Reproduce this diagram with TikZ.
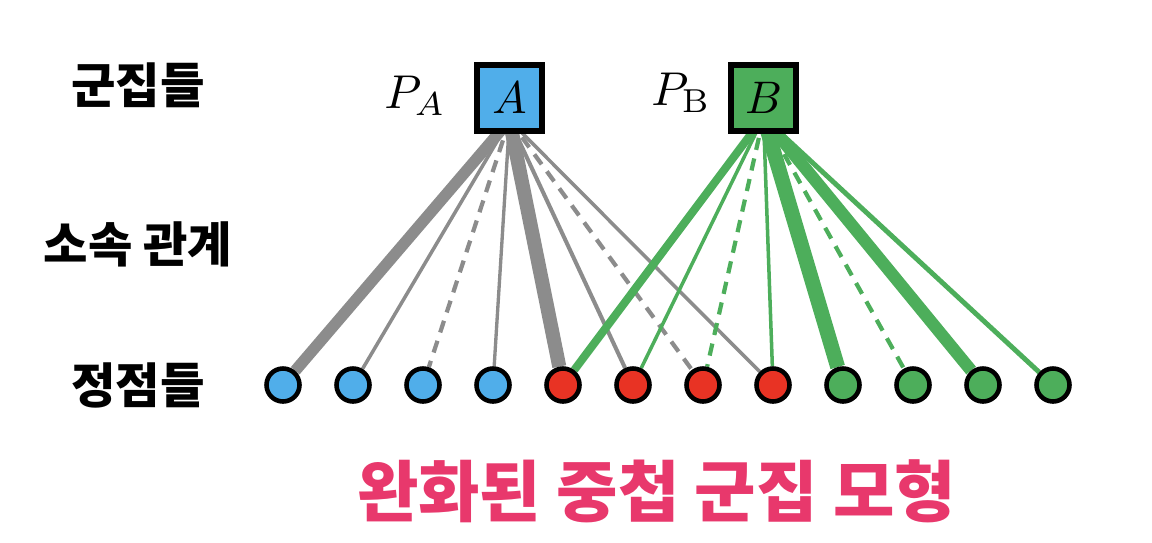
\documentclass[tikz,border=0pt]{standalone}
\usepackage{fontspec}
\usepackage{xcolor}
\newfontfamily\krfont{Noto Sans CJK KR}
\usetikzlibrary{positioning,backgrounds}

\begin{document}
\begin{tikzpicture}[
  cluster/.style={draw=black,line width=3.5pt,minimum size=1.31cm,inner sep=0pt},
  vertex/.style={circle,draw=black,line width=2.6pt,minimum size=0.66cm,inner sep=0pt},
  rowlabel/.style={font=\krfont\bfseries\fontsize{27.5}{32}\selectfont},
  dashedge/.style={dash pattern=on 7pt off 5pt,line width=2.4pt}
]
\definecolor{myBlue}{RGB}{80,174,234}
\definecolor{myRed}{RGB}{232,51,36}
\definecolor{myGreen}{RGB}{77,174,91}
\definecolor{myGray}{RGB}{140,140,140}
\definecolor{myPink}{RGB}{232,56,108}
\useasboundingbox (0,0) rectangle (23.04,10.84);

% clusters
\node[cluster,fill=myBlue] (A) at (10.19,8.88) {\scalebox{2.6}{$A$}};
\node[cluster,fill=myGreen] (B) at (15.27,8.88) {\scalebox{2.6}{$B$}};
\node[inner sep=0pt,left=0.55cm of A,yshift=0.05cm] (PA) {\scalebox{2.7}{$P_A$}};
\node[inner sep=0pt,left=0.33cm of B,yshift=0.1cm] (PB) {\scalebox{2.7}{$P_{\mathrm{B}}$}};
\coordinate (hubA) at ([yshift=0.27cm]A.south);
\coordinate (hubB) at ([yshift=0.33cm]B.south);

% vertices
\node[vertex,fill=myBlue] (v1) at (5.66,3.14) {};
\node[vertex,fill=myBlue] (v2) at (7.06,3.14) {};
\node[vertex,fill=myBlue] (v3) at (8.46,3.14) {};
\node[vertex,fill=myBlue] (v4) at (9.86,3.14) {};
\node[vertex,fill=myRed] (v5) at (11.26,3.14) {};
\node[vertex,fill=myRed] (v6) at (12.66,3.14) {};
\node[vertex,fill=myRed] (v7) at (14.06,3.14) {};
\node[vertex,fill=myRed] (v8) at (15.46,3.14) {};
\node[vertex,fill=myGreen] (v9) at (16.86,3.14) {};
\node[vertex,fill=myGreen] (v10) at (18.26,3.14) {};
\node[vertex,fill=myGreen] (v11) at (19.66,3.14) {};
\node[vertex,fill=myGreen] (v12) at (21.06,3.14) {};

% row labels
\node[rowlabel] (clusters) at (2.76,9.14) {군집들};
\node[rowlabel] (membership) at (2.76,5.96) {소속 관계};
\node[rowlabel] (vertices) at (2.76,3.14) {정점들};
\node[font=\krfont\bfseries\fontsize{38}{44}\selectfont,text=myPink] (title) at (13.13,1.02) {완화된 중첩 군집 모형};

% memberships
\begin{pgfonlayer}{background}
\draw[myGray,line width=6.5pt] (hubA) -- (v1);
\draw[myGray,line width=2pt] (hubA) -- (v2);
\draw[myGray,dashedge] (hubA) -- (v3);
\draw[myGray,line width=1.9pt] (hubA) -- (v4);
\draw[myGray,line width=8pt] (hubA) -- (v5);
\draw[myGray,line width=2.3pt] (hubA) -- (v6);
\draw[myGray,dashedge] (hubA) -- (v7);
\draw[myGray,line width=2pt] (hubA) -- (v8);
\draw[myGreen,line width=4.6pt] (hubB) -- (v5);
\draw[myGreen,line width=2pt] (hubB) -- (v6);
\draw[myGreen,dashedge] (hubB) -- (v7);
\draw[myGreen,line width=2pt] (hubB) -- (v8);
\draw[myGreen,line width=8.5pt] (hubB) -- (v9);
\draw[myGreen,dashedge] (hubB) -- (v10);
\draw[myGreen,line width=7pt] (hubB) -- (v11);
\draw[myGreen,line width=2.8pt] (hubB) -- (v12);
\end{pgfonlayer}
\end{tikzpicture}
\end{document}
